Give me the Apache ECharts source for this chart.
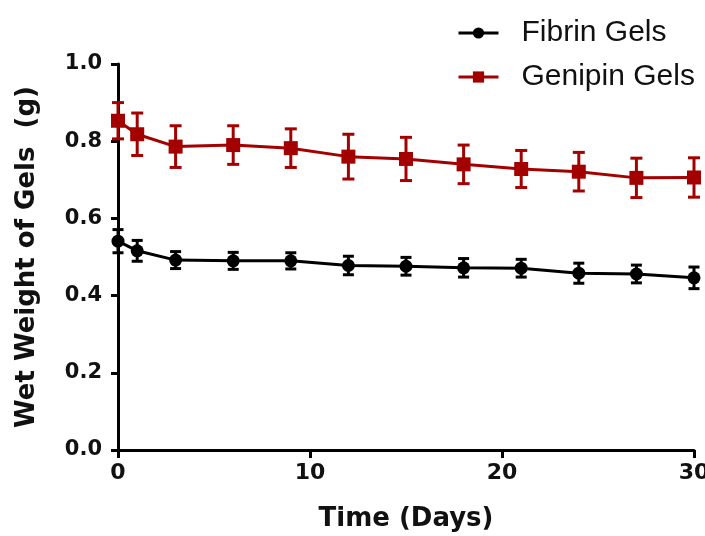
<!DOCTYPE html>
<html>
<head>
<meta charset="utf-8">
<script src="https://cdn.jsdelivr.net/npm/echarts@6/dist/echarts.min.js"></script>
<style>
  html, body { margin: 0; padding: 0; background: #fff; }
  #chart { width: 705px; height: 536px; }
</style>
</head>
<body>
<div id="chart"></div>
<script>
const days = [0, 1, 3, 6, 9, 12, 15, 18, 21, 24, 27, 30];
const fibrinMean = [0.541, 0.516, 0.492, 0.490, 0.490, 0.478, 0.476, 0.472, 0.471, 0.458, 0.456, 0.446];
const fibrinErr = [0.030, 0.027, 0.022, 0.022, 0.021, 0.024, 0.023, 0.024, 0.023, 0.026, 0.023, 0.028];
const genipinMean = [0.853, 0.818, 0.786, 0.790, 0.782, 0.760, 0.754, 0.740, 0.728, 0.721, 0.705, 0.706];
const genipinErr = [0.047, 0.055, 0.054, 0.050, 0.050, 0.058, 0.056, 0.050, 0.048, 0.050, 0.051, 0.051];
const xTicks = [0, 10, 20, 30];

const RED = '#a30000';
const BLACK = '#000';
const axisFont = 'DejaVu Sans';

const points = (mean) => days.map((d, i) => [d, mean[i]]);
const bars = (mean, err) => days.map((d, i) => [d, mean[i] - err[i], mean[i] + err[i]]);

// error bars (mean +/- SEM) drawn as a custom series
const errorSeries = (name, mean, err, color, capW) => ({
  type: 'custom',
  name: name,
  z: 3,
  clip: false,
  data: bars(mean, err),
  renderItem: (params, api) => {
    const lo = api.coord([api.value(0), api.value(1)]);
    const hi = api.coord([api.value(0), api.value(2)]);
    const style = { stroke: color, lineWidth: 3 };
    return {
      type: 'group',
      children: [
        { type: 'line', shape: { x1: lo[0], y1: lo[1], x2: hi[0], y2: hi[1] }, style },
        { type: 'line', shape: { x1: lo[0] - capW / 2, y1: lo[1], x2: lo[0] + capW / 2, y2: lo[1] }, style },
        { type: 'line', shape: { x1: hi[0] - capW / 2, y1: hi[1], x2: hi[0] + capW / 2, y2: hi[1] }, style }
      ]
    };
  }
});

const getOption = () => {
  return {
    animation: false,
    legend: {
      orient: 'vertical',
      left: 452,
      top: 13,
      itemWidth: 40,
      itemHeight: 14,
      itemGap: 14,
      data: ['Fibrin Gels', 'Genipin Gels'],
      lineStyle: { width: 3 },
      textStyle: {
        fontFamily: 'Liberation Sans',
        fontSize: 30,
        color: '#111',
        padding: [0, 0, 0, 18]
      }
    },
    grid: {
      left: 118,
      right: 11,
      top: 64,
      bottom: 86,
      outerBoundsMode: 'none'
    },
    xAxis: {
      type: 'value',
      min: 0,
      max: 30,
      interval: 10,
      name: 'Time (Days)',
      nameLocation: 'middle',
      nameGap: 56,
      nameTextStyle: { fontFamily: axisFont, fontWeight: 'bold', fontSize: 26, color: '#111' },
      splitLine: { show: false },
      axisLine: { lineStyle: { color: BLACK, width: 3 } },
      axisTick: { length: 8, lineStyle: { color: BLACK, width: 3 } },
      axisLabel: {
        margin: 12,
        fontFamily: axisFont,
        fontWeight: 'bold',
        fontSize: 22,
        color: '#111',
        customValues: xTicks
      }
    },
    yAxis: {
      type: 'value',
      min: 0,
      max: 1,
      interval: 0.2,
      name: 'Wet Weight of Gels  (g)',
      nameLocation: 'middle',
      nameGap: 78,
      nameTextStyle: { fontFamily: axisFont, fontWeight: 'bold', fontSize: 26, color: '#111' },
      splitLine: { show: false },
      axisLine: { show: true, lineStyle: { color: BLACK, width: 3 } },
      axisTick: { show: true, length: 7, lineStyle: { color: BLACK, width: 3 } },
      axisLabel: {
        margin: 16,
        fontFamily: axisFont,
        fontWeight: 'bold',
        fontSize: 21,
        color: '#111',
        formatter: (v) => v.toFixed(1)
      }
    },
    series: [
      errorSeries('Fibrin SEM', fibrinMean, fibrinErr, BLACK, 11),
      errorSeries('Genipin SEM', genipinMean, genipinErr, RED, 12),
      {
        name: 'Fibrin Gels',
        type: 'line',
        z: 4,
        clip: false,
        data: points(fibrinMean),
        symbol: 'circle',
        symbolSize: 13,
        lineStyle: { color: BLACK, width: 3 },
        itemStyle: { color: BLACK }
      },
      {
        name: 'Genipin Gels',
        type: 'line',
        z: 4,
        clip: false,
        data: points(genipinMean),
        symbol: 'rect',
        symbolSize: 14,
        lineStyle: { color: RED, width: 3 },
        itemStyle: { color: RED }
      }
    ]
  };
};

const initCharts = () => {
  const chart = echarts.init(document.getElementById('chart'));
  chart.setOption(getOption());
};

window.addEventListener('load', () => {
  initCharts();
});
</script>
</body>
</html>
